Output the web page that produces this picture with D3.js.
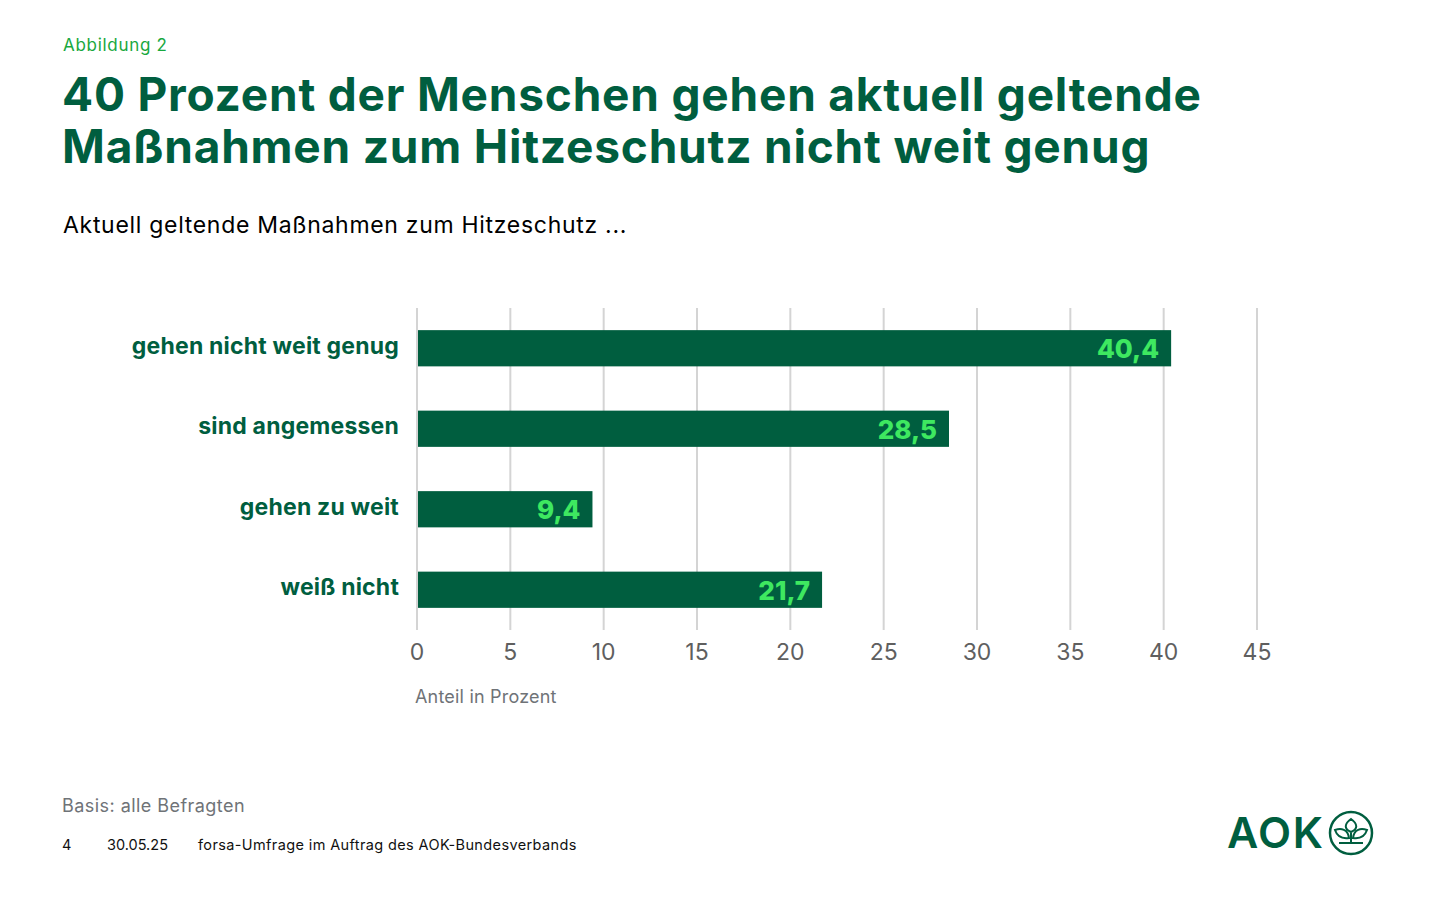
<!DOCTYPE html>
<html>
<head>
<meta charset="utf-8">
<script src="https://cdn.jsdelivr.net/npm/d3@7"></script>
<style>
  html, body { margin: 0; padding: 0; background: #fff; }
  svg { display: block; }
  text { font-family: "Inter", sans-serif; }
</style>
</head>
<body>
<svg width="1440" height="900"></svg>
<script>
var categories = ["gehen nicht weit genug", "sind angemessen", "gehen zu weit", "weiß nicht"];
var values = [40.4, 28.5, 9.4, 21.7];
var valueLabels = ["40,4", "28,5", "9,4", "21,7"];
var ticks = [0, 5, 10, 15, 20, 25, 30, 35, 40, 45];
var titleLines = ["40 Prozent der Menschen gehen aktuell geltende", "Maßnahmen zum Hitzeschutz nicht weit genug"];

var darkGreen = "#005e3f";
var lightGreen = "#3ee860";

var svg = d3.select("svg");

var x = d3.scaleLinear().domain([0, 45]).range([417, 1257]);
var y = d3.scaleBand().domain(categories).range([308, 630]).paddingInner(0.55).paddingOuter(0.275);

// header
svg.append("text").attr("x", 63).attr("y", 51).attr("font-size", 17).attr("letter-spacing", 0.7).attr("fill", "#18a83e").text("Abbildung 2");
svg.selectAll(".title").data(titleLines).enter().append("text")
    .attr("class", "title")
    .attr("x", 62)
    .attr("y", function(d, i) { return 111 + i * 52; })
    .attr("font-size", 46)
    .attr("font-weight", 700)
    .attr("letter-spacing", 0.8)
    .attr("fill", darkGreen)
    .text(function(d) { return d; });
svg.append("text").attr("x", 63).attr("y", 233).attr("font-size", 23).attr("letter-spacing", 0.7).attr("fill", "#000").text("Aktuell geltende Maßnahmen zum Hitzeschutz ...");

// grid
svg.selectAll(".grid").data(ticks).enter().append("line")
    .attr("class", "grid")
    .attr("x1", function(d) { return x(d); })
    .attr("x2", function(d) { return x(d); })
    .attr("y1", 308)
    .attr("y2", 630)
    .attr("stroke", "#d4d4d4")
    .attr("stroke-width", 2);

// bars
svg.selectAll(".bar").data(values).enter().append("rect")
    .attr("class", "bar")
    .attr("x", x(0) + 1)
    .attr("y", function(d, i) { return y(categories[i]); })
    .attr("width", function(d) { return x(d) - x(0) - 1; })
    .attr("height", y.bandwidth())
    .attr("fill", darkGreen);

svg.selectAll(".val").data(values).enter().append("text")
    .attr("class", "val")
    .attr("x", function(d) { return x(d) - 12; })
    .attr("y", function(d, i) { return y(categories[i]) + y.bandwidth() / 2 + 10; })
    .attr("text-anchor", "end")
    .attr("font-size", 26)
    .attr("font-weight", 800)
    .attr("fill", lightGreen)
    .text(function(d, i) { return valueLabels[i]; });

svg.selectAll(".cat").data(categories).enter().append("text")
    .attr("class", "cat")
    .attr("x", 399)
    .attr("y", function(d) { return y(d) + y.bandwidth() / 2 + 5.5; })
    .attr("text-anchor", "end")
    .attr("font-size", 23)
    .attr("font-weight", 700)
    .attr("letter-spacing", 0.2)
    .attr("fill", darkGreen)
    .text(function(d) { return d; });

// x axis labels
svg.selectAll(".tick-label").data(ticks).enter().append("text")
    .attr("class", "tick-label")
    .attr("x", function(d) { return x(d); })
    .attr("y", 660)
    .attr("text-anchor", "middle")
    .attr("font-size", 23)
    .attr("fill", "#5f5f5f")
    .text(function(d) { return d; });

svg.append("text").attr("x", 415).attr("y", 703).attr("font-size", 18).attr("letter-spacing", 0.2).attr("fill", "#6f7377").text("Anteil in Prozent");

// footer
svg.append("text").attr("x", 62).attr("y", 812).attr("font-size", 18).attr("letter-spacing", 0.45).attr("fill", "#6f7377").text("Basis: alle Befragten");
var footY = 850;
svg.append("text").attr("x", 62).attr("y", footY).attr("font-size", 14.5).attr("fill", "#111").text("4");
svg.append("text").attr("x", 107).attr("y", footY).attr("font-size", 14.5).attr("fill", "#111").text("30.05.25");
svg.append("text").attr("x", 198).attr("y", footY).attr("font-size", 14.5).attr("letter-spacing", 0.38).attr("fill", "#111").text("forsa-Umfrage im Auftrag des AOK-Bundesverbands");

// logo
var logo = svg.append("g");
logo.append("text").attr("x", 1227).attr("y", 848).attr("font-size", 43).attr("font-weight", 600).attr("fill", darkGreen).attr("letter-spacing", 1.5).text("AOK");
logo.append("circle").attr("cx", 1351).attr("cy", 833).attr("r", 21).attr("fill", "none").attr("stroke", darkGreen).attr("stroke-width", 2.5);
logo.append("path")
    .attr("d", "M1339 843H1363M1351 843V832M1351 832c-7-3-7-8 0-13c7 5 7 10 0 13zM1349 838c-7 1-12-2-14-8c6-2 13-1 14 8zM1353 838c7 1 12-2 14-8c-6-2-13-1-14 8z")
    .attr("fill", "none").attr("stroke", darkGreen).attr("stroke-width", 2);
</script>
</body>
</html>
